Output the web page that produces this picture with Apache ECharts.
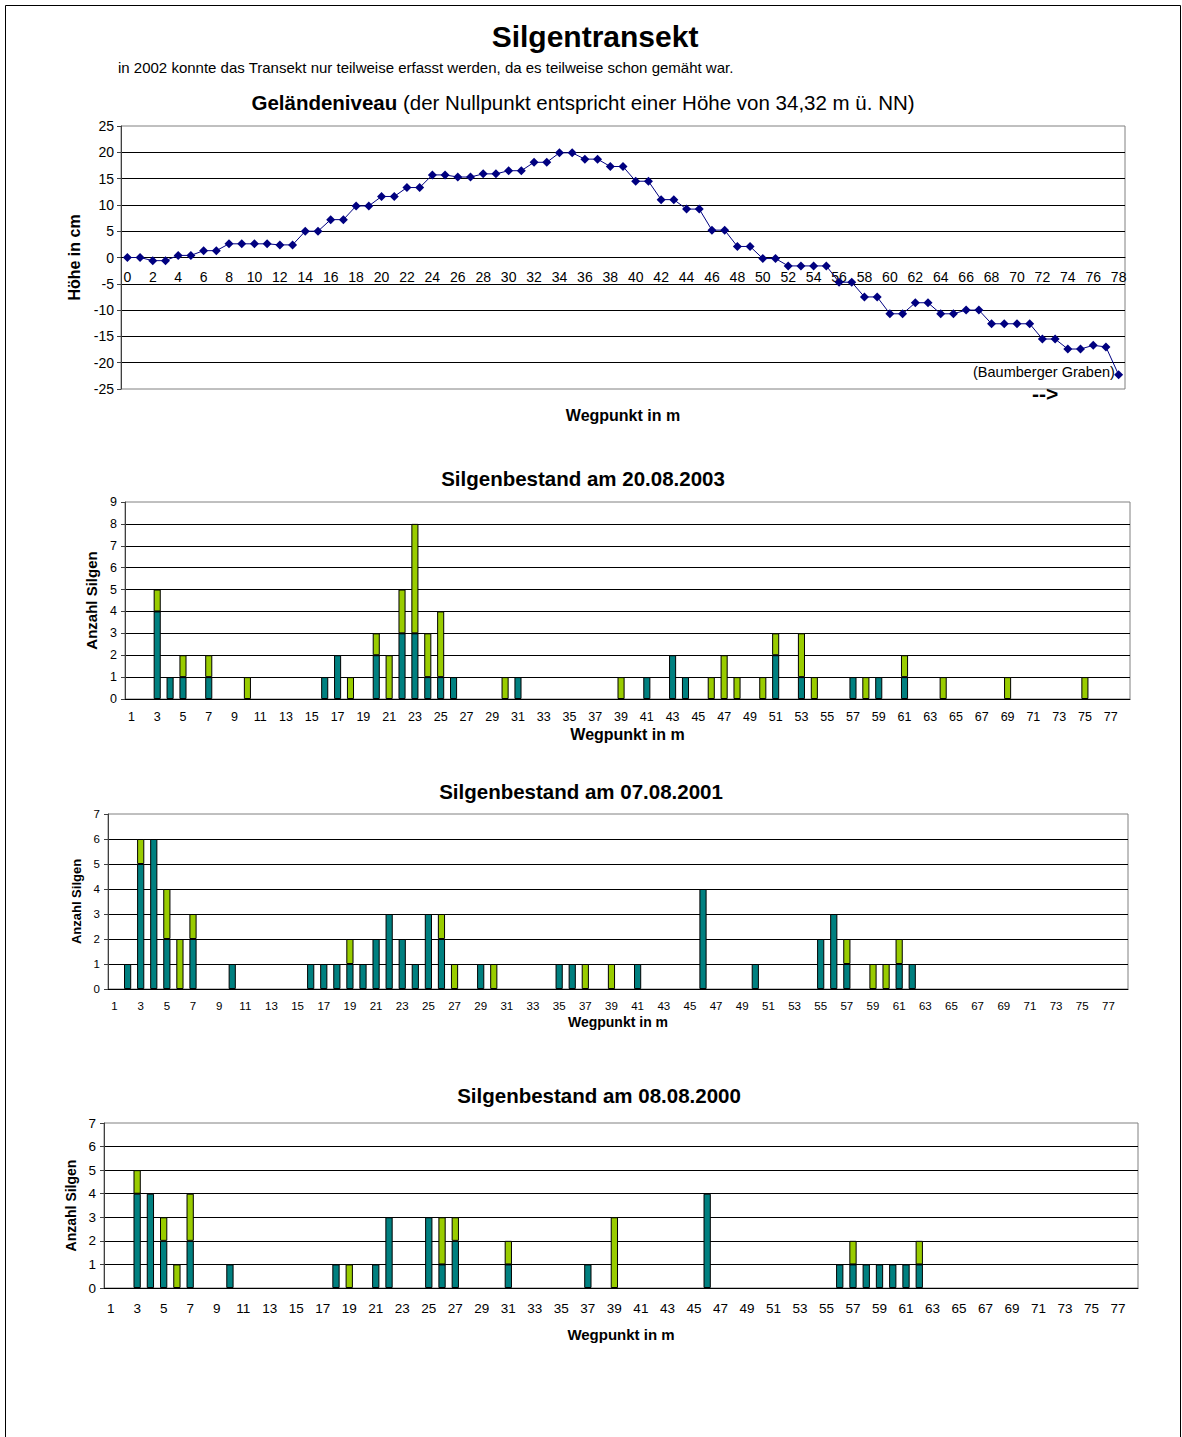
<!DOCTYPE html>
<html>
<head>
<meta charset="utf-8">
<title>Silgentransekt</title>
<script src="https://cdn.jsdelivr.net/npm/echarts@6/dist/echarts.min.js"></script>
<style>
body{margin:0;background:#fff;}
#chart{width:1182px;height:1437px;}
</style>
</head>
<body>
<div id="chart"></div>
<script>
var FONT = "'Liberation Sans', Arial, sans-serif";

// Gelaendeniveau, Wegpunkt 0..78 (cm)
var wegpunkteLinie = [];
for (var i = 0; i <= 78; i++) wegpunkteLinie.push(String(i));
var hoehe = [
  0, 0, -0.6, -0.6, 0.4, 0.4, 1.3, 1.3, 2.6, 2.6,
  2.6, 2.6, 2.4, 2.4, 5.0, 5.0, 7.2, 7.2, 9.8, 9.8,
  11.6, 11.6, 13.3, 13.3, 15.7, 15.7, 15.3, 15.3, 15.9, 15.9,
  16.5, 16.5, 18.1, 18.1, 19.9, 19.9, 18.7, 18.7, 17.3, 17.3,
  14.5, 14.5, 11.0, 11.0, 9.2, 9.2, 5.2, 5.2, 2.1, 2.1,
  -0.2, -0.2, -1.6, -1.6, -1.6, -1.6, -4.7, -4.7, -7.5, -7.5,
  -10.7, -10.7, -8.6, -8.6, -10.7, -10.7, -10.0, -10.0, -12.6, -12.6,
  -12.6, -12.6, -15.5, -15.5, -17.4, -17.4, -16.7, -17.0, -22.3
];

// Silgenbestand, Wegpunkt 1..78
var wegpunkteBar = [];
for (var j = 1; j <= 78; j++) wegpunkteBar.push(String(j));

var teal2003 = [
  0,0,4,1,1,0,1,0,0,0,
  0,0,0,0,0,1,2,0,0,2,
  0,3,3,1,1,1,0,0,0,0,
  1,0,0,0,0,0,0,0,0,0,
  1,0,2,1,0,0,0,0,0,0,
  2,0,1,0,0,0,1,0,1,0,
  1,0,0,0,0,0,0,0,0,0,
  0,0,0,0,0,0,0,0
];
var gruen2003 = [
  0,0,1,0,1,0,1,0,0,1,
  0,0,0,0,0,0,0,1,0,1,
  2,2,5,2,3,0,0,0,0,1,
  0,0,0,0,0,0,0,0,1,0,
  0,0,0,0,0,1,2,1,0,1,
  1,0,2,1,0,0,0,1,0,0,
  1,0,0,1,0,0,0,0,1,0,
  0,0,0,0,1,0,0,0
];
var teal2001 = [
  0,1,5,6,2,0,2,0,0,1,
  0,0,0,0,0,1,1,1,1,1,
  2,3,2,1,3,2,0,0,1,0,
  0,0,0,0,1,1,0,0,0,0,
  1,0,0,0,0,4,0,0,0,1,
  0,0,0,0,2,3,1,0,0,0,
  1,1,0,0,0,0,0,0,0,0,
  0,0,0,0,0,0,0,0
];
var gruen2001 = [
  0,0,1,0,2,2,1,0,0,0,
  0,0,0,0,0,0,0,0,1,0,
  0,0,0,0,0,1,1,0,0,1,
  0,0,0,0,0,0,1,0,1,0,
  0,0,0,0,0,0,0,0,0,0,
  0,0,0,0,0,0,1,0,1,1,
  1,0,0,0,0,0,0,0,0,0,
  0,0,0,0,0,0,0,0
];
var teal2000 = [
  0,0,4,4,2,0,2,0,0,1,
  0,0,0,0,0,0,0,1,0,0,
  1,3,0,0,3,1,2,0,0,0,
  1,0,0,0,0,0,1,0,0,0,
  0,0,0,0,0,4,0,0,0,0,
  0,0,0,0,0,1,1,1,1,1,
  1,1,0,0,0,0,0,0,0,0,
  0,0,0,0,0,0,0,0
];
var gruen2000 = [
  0,0,1,0,1,1,2,0,0,0,
  0,0,0,0,0,0,0,0,1,0,
  0,0,0,0,0,2,1,0,0,0,
  1,0,0,0,0,0,0,0,3,0,
  0,0,0,0,0,0,0,0,0,0,
  0,0,0,0,0,0,1,0,0,0,
  0,1,0,0,0,0,0,0,0,0,
  0,0,0,0,0,0,0,0
];

function leer(arr) {
  return arr.map(function (v) { return v === 0 ? '-' : v; });
}

var barCharts = [
  { titel: 'Silgenbestand am 20.08.2003', teal: teal2003, gruen: gruen2003, max: 9,
    grid: {left: 125, top: 502, width: 1005, height: 197}, tx: 583, ty: 468,
    fs: 12.5, nameFs: 16, yGap: 22, xGap: 27, margin: 11 },
  { titel: 'Silgenbestand am 07.08.2001', teal: teal2001, gruen: gruen2001, max: 7,
    grid: {left: 108, top: 814, width: 1020, height: 175}, tx: 581, ty: 781,
    fs: 11.5, nameFs: 14, yGap: 21, xGap: 26, margin: 11 },
  { titel: 'Silgenbestand am 08.08.2000', teal: teal2000, gruen: gruen2000, max: 7,
    grid: {left: 104, top: 1123, width: 1034, height: 165}, tx: 599, ty: 1085,
    fs: 13.5, nameFs: 15, yGap: 23, xGap: 39, margin: 13 }
];

var option = {
  animation: false,
  backgroundColor: '#fff',
  textStyle: {fontFamily: FONT, color: '#000'},
  title: [
    { text: 'Silgentransekt', left: 595, top: 21, textAlign: 'center', padding: 0,
      textStyle: {fontSize: 30, fontWeight: 'bold', fontFamily: FONT, color: '#000'} },
    { text: 'in 2002 konnte das Transekt nur teilweise erfasst werden, da es teilweise schon gemäht war.',
      left: 118, top: 60, padding: 0,
      textStyle: {fontSize: 15, fontWeight: 'normal', fontFamily: FONT, color: '#000'} },
    { text: '{b|Geländeniveau} (der Nullpunkt entspricht einer Höhe von 34,32 m ü. NN)',
      left: 583, top: 92, textAlign: 'center', padding: 0,
      textStyle: {fontSize: 20.5, fontWeight: 'normal', fontFamily: FONT, color: '#000',
        rich: {b: {fontSize: 20.5, fontWeight: 'bold', fontFamily: FONT, color: '#000'}}} }
  ],
  grid: [
    {left: 121, top: 126, width: 1004, height: 263, show: true, borderColor: '#808080', borderWidth: 1}
  ],
  xAxis: [
    { gridIndex: 0, type: 'category', data: wegpunkteLinie, position: 'bottom', offset: 0,
      axisLine: {onZero: false, lineStyle: {color: '#000'}},
      axisTick: {interval: 0, inside: true, length: 4, lineStyle: {color: '#000'}},
      axisLabel: {interval: 1, margin: 12, fontSize: 14, color: '#000', fontFamily: FONT},
      name: 'Wegpunkt in m', nameLocation: 'middle', nameGap: 150,
      nameTextStyle: {fontSize: 16, fontWeight: 'bold', color: '#000', fontFamily: FONT} }
  ],
  yAxis: [
    { gridIndex: 0, type: 'value', min: -25, max: 25, interval: 5,
      axisLine: {show: true, lineStyle: {color: '#404040'}},
      axisTick: {show: true, length: 4, lineStyle: {color: '#404040'}},
      axisLabel: {margin: 7, fontSize: 14, color: '#000', fontFamily: FONT},
      splitLine: {show: true, showMinLine: false, showMaxLine: false, lineStyle: {color: '#000', width: 1}},
      name: 'Höhe in cm', nameLocation: 'middle', nameGap: 38,
      nameTextStyle: {fontSize: 16, fontWeight: 'bold', color: '#000', fontFamily: FONT} }
  ],
  series: [
    { name: 'Geländeniveau', type: 'line', xAxisIndex: 0, yAxisIndex: 0, data: hoehe,
      symbol: 'diamond', symbolSize: 9, showAllSymbol: true,
      lineStyle: {color: '#000080', width: 1}, itemStyle: {color: '#000080'} }
  ],
  graphic: [
    { type: 'rect', shape: {x: 5.5, y: 5.5, width: 1175, height: 1445},
      style: {fill: 'none', stroke: '#000', lineWidth: 1}, silent: true },
    { type: 'text', x: 973, y: 372,
      style: {text: '(Baumberger Graben)', font: '14.5px ' + FONT, fill: '#000', verticalAlign: 'middle'} },
    { type: 'text', x: 1032, y: 393,
      style: {text: '-->', font: 'bold 21px ' + FONT, fill: '#000', verticalAlign: 'middle'} }
  ]
};

barCharts.forEach(function (c, k) {
  var gi = k + 1;
  var g = c.grid;
  option.grid.push({left: g.left, top: g.top, width: g.width, height: g.height,
    show: true, borderColor: '#808080', borderWidth: 1});
  option.title.push({ text: c.titel, left: c.tx, top: c.ty, textAlign: 'center', padding: 0,
    textStyle: {fontSize: 20.5, fontWeight: 'bold', fontFamily: FONT, color: '#000'} });
  option.xAxis.push({ gridIndex: gi, type: 'category', data: wegpunkteBar,
    axisLine: {lineStyle: {color: '#000'}},
    axisTick: {interval: 0, length: 4, lineStyle: {color: '#000'}},
    axisLabel: {interval: 1, margin: c.margin, fontSize: c.fs, color: '#000', fontFamily: FONT},
    name: 'Wegpunkt in m', nameLocation: 'middle', nameGap: c.xGap,
    nameTextStyle: {fontSize: c.nameFs, fontWeight: 'bold', color: '#000', fontFamily: FONT} });
  option.yAxis.push({ gridIndex: gi, type: 'value', min: 0, max: c.max, interval: 1,
    axisLine: {show: true, lineStyle: {color: '#404040'}},
    axisTick: {show: true, length: 4, lineStyle: {color: '#404040'}},
    axisLabel: {margin: 8, fontSize: c.fs, color: '#000', fontFamily: FONT},
    splitLine: {show: true, showMinLine: false, showMaxLine: false, lineStyle: {color: '#000', width: 1}},
    name: 'Anzahl Silgen', nameLocation: 'middle', nameGap: c.yGap,
    nameTextStyle: {fontSize: c.nameFs - 1, fontWeight: 'bold', color: '#000', fontFamily: FONT} });
  option.series.push({ name: 'Reihe1', type: 'bar', stack: 's' + gi, xAxisIndex: gi, yAxisIndex: gi,
    data: leer(c.teal), barWidth: '55%',
    itemStyle: {color: '#008080', borderColor: '#000', borderWidth: 1} });
  option.series.push({ name: 'Reihe2', type: 'bar', stack: 's' + gi, xAxisIndex: gi, yAxisIndex: gi,
    data: leer(c.gruen), barWidth: '55%',
    itemStyle: {color: '#99CC00', borderColor: '#000', borderWidth: 1} });
});

var myChart = echarts.init(document.getElementById('chart'), null, {renderer: 'svg'});
myChart.setOption(option);

// x-Achse des Gelaendeniveaus auf die Nulllinie legen
var nullY = myChart.convertToPixel({xAxisIndex: 0, yAxisIndex: 0}, [0, 0])[1];
var unten = option.grid[0].top + option.grid[0].height;
myChart.setOption({xAxis: [{offset: nullY - unten}]});
</script>
</body>
</html>
